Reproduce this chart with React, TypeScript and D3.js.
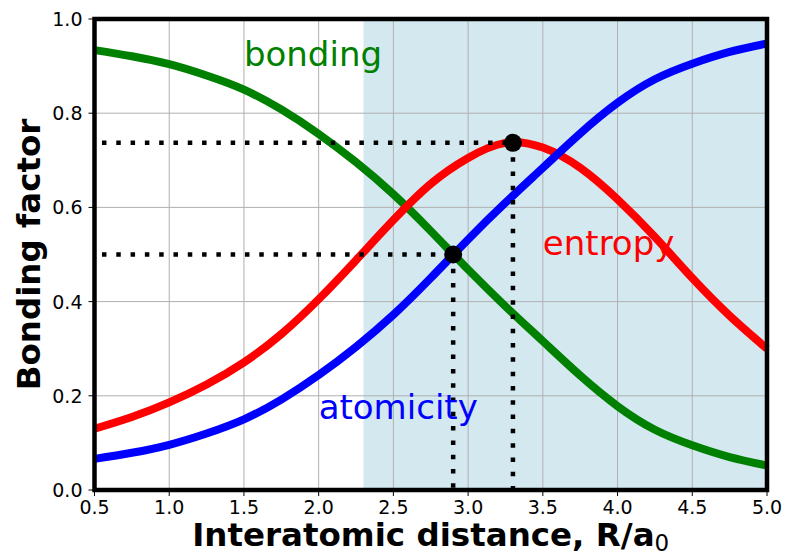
import * as d3 from 'd3';

// distance grid R/a0 and the three curves
const distances = [0.5, 0.75, 1.0, 1.25, 1.5, 1.75, 2.0, 2.25, 2.5, 2.75, 3.0, 3.25, 3.5, 3.75, 4.0, 4.25, 4.5, 4.75, 5.0];
const bonding = [0.934, 0.921, 0.904, 0.880, 0.850, 0.808, 0.756, 0.696, 0.628, 0.550, 0.468, 0.390, 0.316, 0.243, 0.178, 0.128, 0.095, 0.070, 0.052];
const atomicity = [0.066, 0.079, 0.096, 0.120, 0.150, 0.192, 0.244, 0.304, 0.372, 0.450, 0.532, 0.610, 0.684, 0.757, 0.822, 0.872, 0.905, 0.930, 0.948];
const entropy = [0.130, 0.155, 0.186, 0.224, 0.271, 0.331, 0.405, 0.488, 0.573, 0.650, 0.705, 0.737, 0.727, 0.684, 0.617, 0.537, 0.450, 0.370, 0.300];

// highlighted points: crossing of bonding/atomicity and entropy maximum
const markerR = [2.9, 3.3];
const markerV = [0.5, 0.737];
const guideStart = 0.55;

const shadeFrom = 2.3;
const xTicks = [0.5, 1.0, 1.5, 2.0, 2.5, 3.0, 3.5, 4.0, 4.5, 5.0];
const yTicks = [0.0, 0.2, 0.4, 0.6, 0.8, 1.0];

const series = [
  { name: 'bonding', values: bonding, color: '#008000', labelAt: [1.5, 0.9] },
  { name: 'entropy', values: entropy, color: '#ff0000', labelAt: [3.5, 0.5] },
  { name: 'atomicity', values: atomicity, color: '#0000ff', labelAt: [2.0, 0.15] },
];

const W = 786;
const H = 557;
const FONT = '"DejaVu Sans", sans-serif';

export default function App() {
  const x = d3.scaleLinear().domain([0.5, 5.0]).range([94.5, 767]);
  const y = d3.scaleLinear().domain([0, 1]).range([490, 19]);
  const [x0, x1] = x.range();
  const [y0, y1] = y.range();

  const line = d3.line<number>()
    .x((_, i) => x(distances[i]))
    .y(v => y(v))
    .curve(d3.curveNatural);

  return (
    <svg width={W} height={H} style={{ position: 'absolute', left: 0, top: 0, background: '#fff' }}
      fontFamily={FONT}>
      {/* shaded region */}
      <rect x={x(shadeFrom)} y={y1} width={x1 - x(shadeFrom)} height={y0 - y1} fill="#d4e8f0" />

      {/* grid */}
      {xTicks.map(t => (
        <line key={'gx' + t} x1={x(t)} x2={x(t)} y1={y0} y2={y1} stroke="#b0b0b0" strokeWidth={1} />
      ))}
      {yTicks.map(t => (
        <line key={'gy' + t} x1={x0} x2={x1} y1={y(t)} y2={y(t)} stroke="#b0b0b0" strokeWidth={1} />
      ))}

      {/* curves */}
      {series.map(s => (
        <path key={s.name} d={line(s.values) ?? ''} fill="none" stroke={s.color} strokeWidth={8} />
      ))}

      {/* dotted guides */}
      {markerR.map((r, i) => (
        <g key={'guide' + i} stroke="#000" strokeWidth={4.5} strokeDasharray="4.5,9.8" fill="none">
          <line x1={x(guideStart)} x2={x(r)} y1={y(markerV[i])} y2={y(markerV[i])} />
          <line x1={x(r)} x2={x(r)} y1={y(markerV[i])} y2={y0} />
        </g>
      ))}
      {markerR.map((r, i) => (
        <circle key={'m' + i} cx={x(r)} cy={y(markerV[i])} r={9} fill="#000" />
      ))}

      {/* curve labels */}
      {series.map(s => (
        <text key={'l' + s.name} x={x(s.labelAt[0])} y={y(s.labelAt[1])} fill={s.color} fontSize={34}>
          {s.name}
        </text>
      ))}

      {/* frame */}
      <rect x={x0} y={y1} width={x1 - x0} height={y0 - y1} fill="none" stroke="#000" strokeWidth={4.5} />

      {/* ticks */}
      {xTicks.map(t => (
        <g key={'tx' + t}>
          <line x1={x(t)} x2={x(t)} y1={y0} y2={y0 + 6} stroke="#000" strokeWidth={1} />
          <text x={x(t)} y={y0 + 24} textAnchor="middle" fontSize={19} fill="#000">{t.toFixed(1)}</text>
        </g>
      ))}
      {yTicks.map(t => (
        <g key={'ty' + t}>
          <line x1={x0 - 6} x2={x0} y1={y(t)} y2={y(t)} stroke="#000" strokeWidth={1} />
          <text x={x0 - 12} y={y(t) + 7} textAnchor="end" fontSize={19} fill="#000">{t.toFixed(1)}</text>
        </g>
      ))}

      {/* axis titles */}
      <text x={(x0 + x1) / 2} y={546} textAnchor="middle" fontSize={32.5} fontWeight="bold" fill="#000">
        Interatomic distance, R/a
        <tspan fontWeight="normal" fontSize={23} dy={5}>0</tspan>
      </text>
      <text transform={`translate(40,${(y0 + y1) / 2}) rotate(-90)`} textAnchor="middle" fontSize={32.5}
        fontWeight="bold" fill="#000">
        Bonding factor
      </text>
    </svg>
  );
}
